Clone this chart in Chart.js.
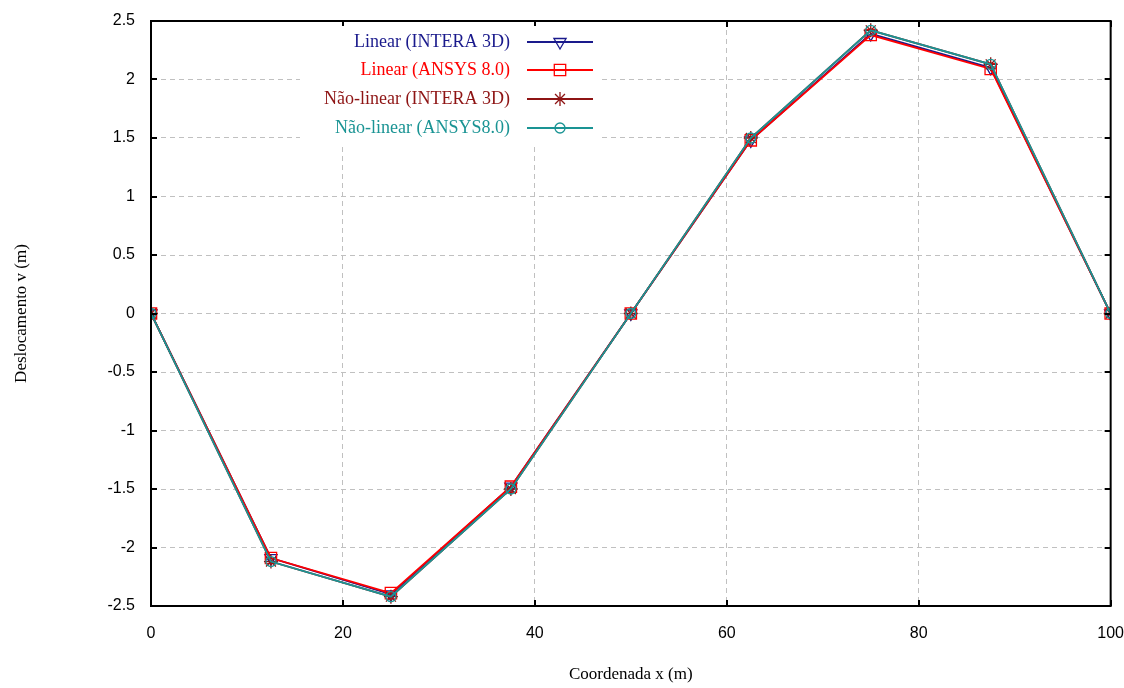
<!DOCTYPE html>
<html><head><meta charset="utf-8">
<script src="https://cdn.jsdelivr.net/npm/chart.js@4/dist/chart.umd.min.js"></script>
<style>html,body{margin:0;padding:0;background:#fff;}#wrap{width:1124px;height:688px;}</style>
</head><body><div id="wrap"><canvas id="c" width="1124" height="688"></canvas></div>
<script>
const xCoords = [0, 12.5, 25, 37.5, 50, 62.5, 75, 87.5, 100];
const linearIntera = [0, -2.09, -2.40, -1.48, 0, 1.48, 2.39, 2.10, 0];
const linearAnsys = [0, -2.09, -2.39, -1.48, 0, 1.48, 2.38, 2.09, 0];
const naoLinearIntera = [0, -2.12, -2.42, -1.50, 0, 1.50, 2.42, 2.13, 0];
const naoLinearAnsys = [0, -2.12, -2.42, -1.50, 0, 1.50, 2.42, 2.13, 0];
const seriesNames = ['Linear (INTERA 3D)', 'Linear (ANSYS 8.0)', 'Não-linear (INTERA 3D)', 'Não-linear (ANSYS8.0)'];
const xTitle = 'Coordenada x (m)';
const yTitle = 'Deslocamento v (m)';

const colors = ['#1a1a8c', '#ff0000', '#8e1414', '#1a9494'];
const styles = [
  {pointStyle: 'triangle', rotation: 180, radius: 7},
  {pointStyle: 'rect', rotation: 0, radius: 8},
  {pointStyle: 'star', rotation: 0, radius: 7},
  {pointStyle: 'circle', rotation: 0, radius: 5}
];
const allSeries = [linearIntera, linearAnsys, naoLinearIntera, naoLinearAnsys];

const datasets = allSeries.map((vals, i) => ({
  label: seriesNames[i],
  data: xCoords.map((x, j) => ({x: x, y: vals[j]})),
  borderColor: colors[i],
  backgroundColor: 'rgba(0,0,0,0)',
  borderWidth: 1.8,
  pointStyle: styles[i].pointStyle,
  rotation: styles[i].rotation,
  pointRadius: styles[i].radius,
  pointBorderColor: colors[i],
  pointBackgroundColor: 'rgba(0,0,0,0)',
  pointBorderWidth: 1.3,
  tension: 0,
  order: 3 - i
}));

const innerTicks = {
  id: 'innerTicks',
  afterDatasetsDraw(chart) {
    const ctx = chart.ctx, a = chart.chartArea, xs = chart.scales.x, ys = chart.scales.y;
    ctx.save();
    ctx.strokeStyle = '#000'; ctx.lineWidth = 2;
    ctx.beginPath();
    xs.ticks.forEach(t => {
      const px = Math.round(xs.getPixelForValue(t.value));
      ctx.moveTo(px, a.bottom); ctx.lineTo(px, a.bottom - 6);
      ctx.moveTo(px, a.top); ctx.lineTo(px, a.top + 6);
    });
    ys.ticks.forEach(t => {
      const py = Math.round(ys.getPixelForValue(t.value));
      ctx.moveTo(a.left, py); ctx.lineTo(a.left + 6, py);
      ctx.moveTo(a.right, py); ctx.lineTo(a.right - 6, py);
    });
    ctx.stroke();
    ctx.restore();
  }
};

function drawMarker(ctx, style, x, y, color) {
  ctx.save();
  ctx.strokeStyle = color; ctx.lineWidth = 1.3;
  ctx.beginPath();
  if (style.pointStyle === 'rect') {
    const h = 5.7;
    ctx.rect(x - h, y - h, 2 * h, 2 * h);
  } else if (style.pointStyle === 'circle') {
    ctx.arc(x, y, 5, 0, Math.PI * 2);
  } else if (style.pointStyle === 'triangle') {
    const r = 7;
    ctx.moveTo(x - r * 0.87, y - r * 0.5); ctx.lineTo(x + r * 0.87, y - r * 0.5); ctx.lineTo(x, y + r); ctx.closePath();
  } else if (style.pointStyle === 'star') {
    const r = 7;
    for (let k = 0; k < 4; k++) {
      const ang = k * Math.PI / 4;
      ctx.moveTo(x - r * Math.cos(ang), y - r * Math.sin(ang));
      ctx.lineTo(x + r * Math.cos(ang), y + r * Math.sin(ang));
    }
  }
  ctx.stroke();
  ctx.restore();
}

const customLegend = {
  id: 'customLegend',
  afterDraw(chart) {
    const ctx = chart.ctx;
    ctx.save();
    ctx.fillStyle = '#fff';
    ctx.fillRect(300, 26, 300, 118);
    ctx.font = '18px "Liberation Serif", "Times New Roman", serif';
    ctx.textAlign = 'right';
    ctx.textBaseline = 'middle';
    const rows = [42, 70, 99, 128];
    seriesNames.forEach((name, i) => {
      const y = rows[i];
      ctx.fillStyle = colors[i];
      ctx.fillText(name, 510, y);
      ctx.strokeStyle = colors[i]; ctx.lineWidth = 1.8;
      ctx.beginPath(); ctx.moveTo(527, y); ctx.lineTo(593, y); ctx.stroke();
      drawMarker(ctx, styles[i], 560, y, colors[i]);
    });
    ctx.restore();
  }
};

const fmt = v => String(Math.round(v * 10) / 10);

new Chart(document.getElementById('c'), {
  type: 'line',
  data: {datasets: datasets},
  options: {
    responsive: false,
    animation: false,
    layout: {padding: {left: 0, right: 0, top: 21, bottom: 0}},
    plugins: {legend: {display: false}, tooltip: {enabled: false}},
    scales: {
      x: {
        type: 'linear', min: 0, max: 100,
        ticks: {stepSize: 20, padding: 0, color: '#000', callback: fmt, font: {family: '"Liberation Sans", Arial, sans-serif', size: 16}},
        grid: {color: '#c0c0c0', lineWidth: 1, drawTicks: true, tickLength: 18, tickColor: 'rgba(0,0,0,0)'},
        border: {display: true, color: '#000', width: 2, dash: [5, 4]},
        title: {display: true, text: xTitle, color: '#000', padding: {top: 0, bottom: 3}, font: {family: '"Liberation Serif", "Times New Roman", serif', size: 17}},
        afterFit(s) { s.height = 82; }
      },
      y: {
        min: -2.5, max: 2.5,
        ticks: {stepSize: 0.5, padding: 2, color: '#000', callback: fmt, font: {family: '"Liberation Sans", Arial, sans-serif', size: 16}},
        grid: {color: '#c0c0c0', lineWidth: 1, drawTicks: true, tickLength: 14, tickColor: 'rgba(0,0,0,0)'},
        border: {display: true, color: '#000', width: 2, dash: [5, 4]},
        title: {display: true, text: yTitle, color: '#000', padding: {top: 11, bottom: 0}, font: {family: '"Liberation Serif", "Times New Roman", serif', size: 17}},
        afterFit(s) { s.width = 151; }
      }
    }
  },
  plugins: [innerTicks, customLegend, {
    id: 'frame',
    afterDraw(chart) {
      const ctx = chart.ctx, a = chart.chartArea;
      ctx.save(); ctx.strokeStyle = '#000'; ctx.lineWidth = 2;
      ctx.strokeRect(a.left, a.top, a.right - a.left, a.bottom - a.top);
      ctx.restore();
    }
  }]
});
</script>
</body></html>
